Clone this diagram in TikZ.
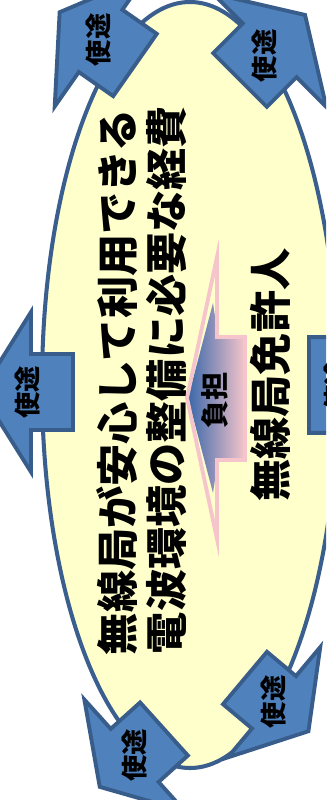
\documentclass[tikz,border=0pt]{standalone}
\usepackage{fontspec}
\usepackage{tikz}
\usetikzlibrary{positioning, calc}
\newfontfamily\jpfont{Noto Sans CJK JP}[BoldFont={Noto Sans CJK JP Black}]
\definecolor{ovalfill}{HTML}{FFFFCC}
\definecolor{ovalline}{HTML}{3A5F8E}
\definecolor{usefill}{HTML}{4F81BD}
\definecolor{useline}{HTML}{385D8A}
\definecolor{burdenblue}{HTML}{3B68AA}
\definecolor{burdenpink}{HTML}{F6C5CB}

% block arrow: name, x, y, angle, scale, label position
\newcommand{\usearrow}[6]{%
  \begin{scope}[shift={(#2,#3)}, rotate=#4, scale=#5]
    \draw[usearrow] (0,-38) -- (42,-38) -- (42,-80) -- (92,0) -- (42,80) -- (42,38) -- (0,38) -- cycle;
    \node[uselabel] (#1) at (#6,0) {使途};
  \end{scope}}

\begin{document}
\begin{tikzpicture}[x=0.02cm, y=-0.02cm,
  usearrow/.style={fill=usefill, draw=useline, line width=2.2pt, line join=miter},
  uselabel/.style={rotate=90, font=\jpfont\bfseries\fontsize{15}{15}\selectfont, inner sep=0pt},
  bigtext/.style={rotate=90, font=\jpfont\bfseries\fontsize{24}{24}\selectfont, inner sep=0pt}]

\useasboundingbox (0,0) rectangle (326,800);
\clip (0,0) rectangle (326,800);
\fill[white] (0,0) rectangle (326,800);

\draw[fill=ovalfill, draw=ovalline, line width=2.3pt] (190,385) ellipse [x radius=148, y radius=383];

\node[bigtext] (line1) at (117,382) {無線局が安心して利用できる};
\node[bigtext] (line2) at (167,380) {電波環境の整備に必要な経費};
\node[bigtext] (holder) at (270,375) {無線局免許人};

% burden arrow
\fill[ovalfill] (187,398) -- (217,257) -- (217,337) -- (245,337) -- (245,460) -- (217,460) -- (217,539) -- cycle;
\shade[left color=burdenblue, middle color=burdenblue!85!burdenpink, right color=burdenpink]
  (188,398) -- (213,303) -- (218,337) -- (245,337) -- (245,460) -- (218,460) -- (213,493) -- cycle;
\draw[burdenpink, line width=2.2pt, line join=miter] (187,398) -- (217,257) -- (217,337) -- (245,337) -- (245,460) -- (217,460) -- (217,539) -- cycle;
\node[rotate=90, font=\jpfont\bfseries\fontsize{16}{16}\selectfont, inner sep=0pt] (burden) at (215,400) {負担};

\usearrow{useL}{73}{392}{180}{1}{46}
\usearrow{useTL}{135}{65}{145}{1}{44}
\usearrow{useTR}{240}{80}{45}{1}{34}
\usearrow{useBL}{164}{729}{222}{0.94}{42}
\usearrow{useBR}{245}{678}{320}{0.9}{41}
\usearrow{useR}{309}{385}{0}{1.26}{22}
\end{tikzpicture}
\end{document}
